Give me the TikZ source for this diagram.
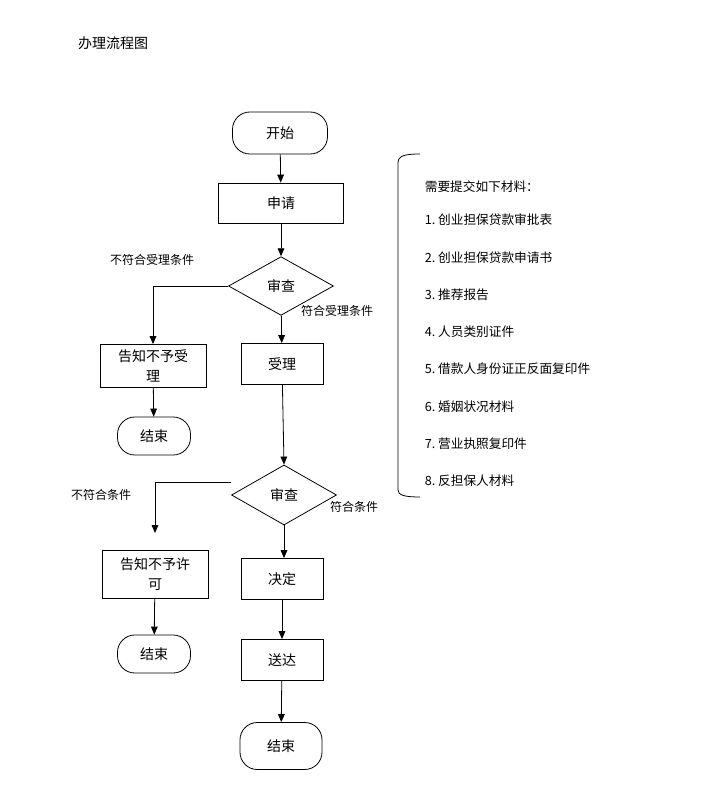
\documentclass[tikz,border=0pt]{standalone}
\usepackage{fontspec}
\setmainfont{Noto Sans CJK SC}
\usetikzlibrary{arrows.meta,shapes.geometric}

\begin{document}
\begin{tikzpicture}[
  x=0.75pt, y=-0.75pt, line width=0.6pt,
  font=\fontsize{10.5}{15}\selectfont,
  box/.style={draw, minimum width=61.5pt, minimum height=30.75pt,
              align=center, inner sep=2pt},
  term/.style={draw, rounded corners=13pt, minimum width=54.75pt,
               minimum height=28.5pt},
  decision/.style={draw, diamond, minimum width=78.75pt,
                   minimum height=44pt, inner sep=0pt},
  arr/.style={-{Triangle[length=6pt,width=5pt]}},
  lbl/.style={font=\fontsize{9}{11}\selectfont},
  item/.style={anchor=west, font=\fontsize{9.5}{11}\selectfont},
]
  \useasboundingbox (0,0) rectangle (714,791);

  \node (title) at (113,43) {办理流程图};

  % main column
  \node[term, minimum width=71.25pt, minimum height=31.5pt] (start) at (280,133) {开始};
  \node[box, minimum width=93.75pt, minimum height=30pt] (apply) at (281,203) {申请};
  \node[decision] (chk1) at (281,286) {审查};
  \node[box] (accept) at (282,364) {受理};
  \node[decision, minimum height=45pt] (chk2) at (284,495) {审查};
  \node[box] (decide) at (282,579) {决定};
  \node[box] (deliver) at (282,660) {送达};
  \node[term, minimum width=61.5pt, minimum height=35.25pt] (end3) at (281,746) {结束};

  % left column
  \node[box, minimum width=79.5pt, minimum height=32.25pt] (refuse1) at (153,366) {告知不予受\\理};
  \node[term] (end1) at (154,436) {结束};
  \node[box, minimum width=79.5pt, minimum height=36pt] (refuse2) at (155,574) {告知不予许\\可};
  \node[term] (end2) at (154,654) {结束};
  \coordinate (nx2) at (155,533);

  \node[lbl] (no1) at (152,260) {不符合受理条件};
  \node[lbl] (yes1) at (337,311) {符合受理条件};
  \node[lbl] (no2) at (101,495) {不符合条件};
  \node[lbl] (yes2) at (354,507) {符合条件};

  \draw[arr] (start) -- (apply);
  \draw[arr] (apply) -- (chk1);
  \draw[arr] (chk1) -- (accept);
  \draw[arr] (chk1.west) -| (refuse1);
  \draw[arr] (refuse1) -- (end1);
  \draw[arr] (accept) -- (chk2.north);
  \draw[arr] ([yshift=9.75pt]chk2.west) -| (nx2);
  \draw[arr] (chk2) -- (chk2 |- decide.north);
  \draw[arr] (refuse2) -- (end2);
  \draw[arr] (decide) -- (deliver);
  \draw[arr] (deliver) -- (end3);

  % materials list
  \draw (420,154) .. controls (404,154) and (398,156) .. (398,163)
        -- (398,490) .. controls (398,495) and (404,497) .. (420,497);
  \coordinate (brc) at (396,199);
  \draw[double, double distance=0.8pt, line width=0.6pt,
        dash pattern=on 2pt off 1pt, black!80] (apply.east |- brc) -- (brc);

  \node[item] (head) at (420,187) {需要提交如下材料：};
  \foreach \i/\t in {1/创业担保贷款审批表, 2/创业担保贷款申请书, 3/推荐报告,
                     4/人员类别证件, 5/借款人身份证正反面复印件, 6/婚姻状况材料,
                     7/营业执照复印件, 8/反担保人材料}
    \node[item] (item\i) at (420,{220+(\i-1)*37.3}) {\i.\ \t};
\end{tikzpicture}
\end{document}
